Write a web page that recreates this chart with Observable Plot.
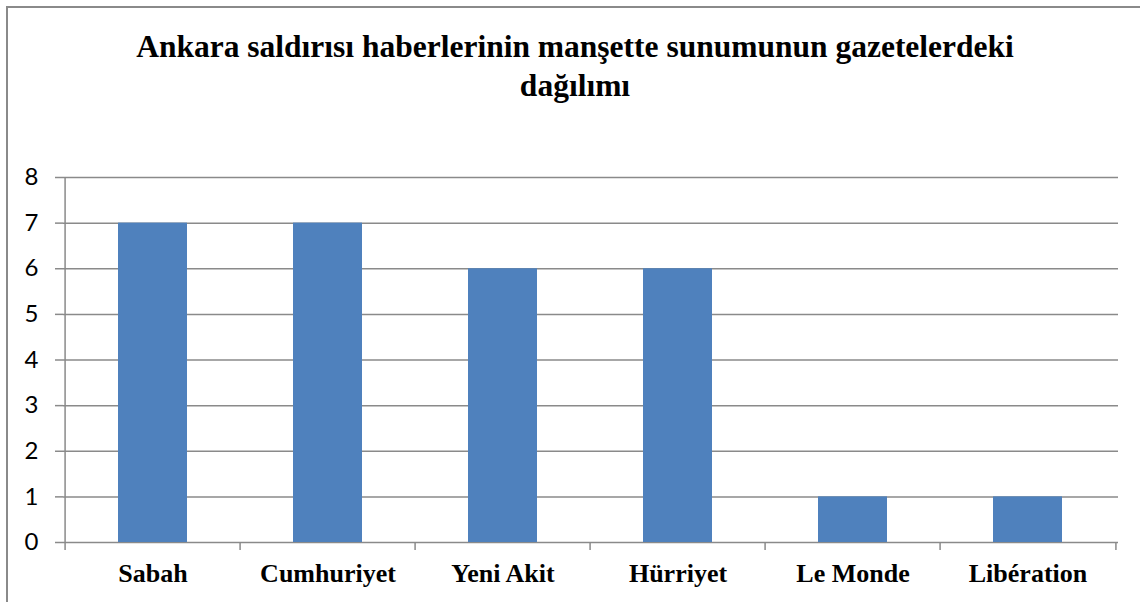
<!DOCTYPE html>
<html>
<head>
<meta charset="utf-8">
<script src="https://cdn.jsdelivr.net/npm/d3@7"></script>
<script src="https://cdn.jsdelivr.net/npm/@observablehq/plot@0.6"></script>
<style>
  html, body { margin: 0; padding: 0; background: #fff; overflow: hidden; }
  #wrap { position: relative; width: 1140px; height: 602px; overflow: hidden; background: #fff; }
  #border { position: absolute; left: 6px; top: 6px; width: 1150px; height: 620px; border: 2px solid #8a8a8a; box-sizing: border-box; }
  #title { position: absolute; left: 0; top: 27px; width: 1150px; text-align: center;
    font-family: "Liberation Serif", "Times New Roman", serif; font-weight: bold; font-size: 31.5px; line-height: 39px; color: #000; }
  #chart { position: absolute; left: 0; top: 150px; }
</style>
</head>
<body>
<div id="wrap">
  <div id="border"></div>
  <div id="title">Ankara saldırısı haberlerinin manşette sunumunun gazetelerdeki<br>dağılımı</div>
  <div id="chart"></div>
</div>
<script>
const categories = ["Sabah", "Cumhuriyet", "Yeni Akit", "Hürriyet", "Le Monde", "Libération"];
const values = [7, 7, 6, 6, 1, 1];
const yTicks = [0, 1, 2, 3, 4, 5, 6, 7, 8];

const data = categories.map((name, i) => ({name, value: values[i]}));

const W = 1140, H = 452, mL = 63, mR = 22, mT = 27, mB = 60;
const step = (W - mL - mR) / categories.length;
const gridColor = "#8a8a8a";

const chart = Plot.plot({
  width: W,
  height: H,
  marginTop: mT,
  marginBottom: mB,
  marginLeft: mL,
  marginRight: mR,
  style: {background: "transparent", overflow: "visible", fontFamily: "Lato, sans-serif"},
  x: {domain: categories, paddingInner: 0.604, paddingOuter: 0.302, axis: null, label: null},
  y: {domain: [0, 8], axis: null, label: null},
  marks: [
    Plot.gridY(yTicks, {stroke: gridColor, strokeOpacity: 1, strokeWidth: 1.5}),
    Plot.ruleX([categories[0]], {dx: -step / 2, y1: 0, y2: 8, stroke: gridColor, strokeWidth: 1.5}),
    Plot.barY(data, {x: "name", y: "value", fill: "#4F81BD"}),
    Plot.axisY(yTicks, {label: null, tickSize: 8, tickPadding: 17, stroke: gridColor, strokeWidth: 1.5,
      fill: "#000", fontSize: 24, fontFamily: "Lato"}),
    Plot.axisX({label: null, tickSize: 8, text: null, dx: -step / 2, stroke: gridColor, strokeWidth: 1.5}),
    Plot.axisX([categories[categories.length - 1]], {label: null, tickSize: 8, text: null, dx: step / 2, stroke: gridColor, strokeWidth: 1.5}),
    Plot.text(categories, {x: d => d, frameAnchor: "bottom", lineAnchor: "top", dy: 21,
      fill: "#000", fontSize: 26, fontWeight: "bold", fontFamily: "Liberation Serif"})
  ]
});
document.getElementById("chart").appendChild(chart);
</script>
</body>
</html>
